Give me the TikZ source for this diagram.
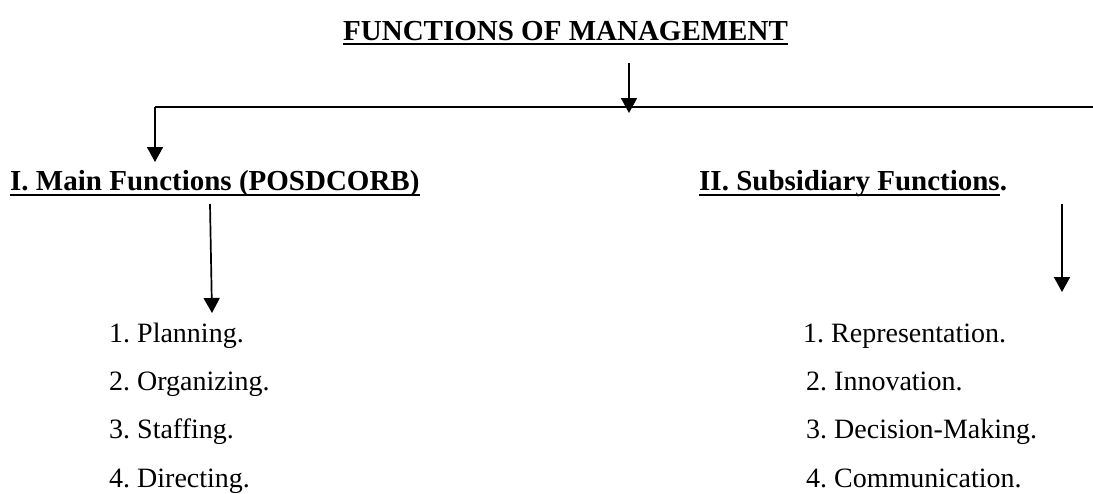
\documentclass[tikz,border=0pt]{standalone}
\usepackage{fontspec}
\setmainfont{Liberation Serif}
\usetikzlibrary{arrows.meta}
\frenchspacing
\begin{document}
\begin{tikzpicture}
    [x=1pt,y=-1pt,
    titre/.style={inner sep=0pt,anchor=base west,%
      font=\fontsize{29}{34}\selectfont\bfseries},
    item/.style={inner sep=0pt,anchor=base west,%
      font=\fontsize{28}{34}\selectfont},
    souligne/.style={line width=2.2pt},
    fleche/.style={-{Triangle[length=15pt,width=16pt]},line width=1.7pt}]
    \useasboundingbox (0,0) rectangle (1093,493);
    \node[titre] (F) at (343,40) {FUNCTIONS OF MANAGEMENT};
    \node[titre] (M) at (10,190) {I. Main Functions (POSDCORB)};
    \node[titre] (S) at (699,190) {II. Subsidiary Functions\rlap{.}};
    
    \draw[souligne] ([yshift=-4pt]F.base west) -- ([yshift=-4pt]F.base east);
    \draw[souligne] ([yshift=-5pt]M.base west) -- ([yshift=-5pt]M.base east);
    \draw[souligne] ([yshift=-5pt]S.base west) -- ([yshift=-5pt]S.base east);
    
    \coordinate (A) at (629,63);
    \coordinate (J) at (629,113);
    \coordinate (G) at (155,107);
    \coordinate (D) at (1093,107);
    \coordinate (Gb) at (155,162);
    \coordinate (Mh) at (210,204);
    \coordinate (Mb) at (212,313);
    \coordinate (Sh) at (1062,204);
    \coordinate (Sb) at (1062,292);
    
    \draw[fleche] (A) -- (J);
    \draw[line width=1.7pt] (G) -- (D);
    \draw[fleche] (G) -- (Gb);
    \draw[fleche] (Mh) -- (Mb);
    \draw[fleche] (Sh) -- (Sb);
    
    \node[item] (P1) at (109,342) {1. Planning.};
    \node[item] (P2) at (109,390) {2. Organizing.};
    \node[item] (P3) at (109,438) {3. Staffing.};
    \node[item] (P4) at (109,487) {4. Directing.};
    
    \node[item] (R1) at (803,342) {1. Representation.};
    \node[item] (R2) at (806,390) {2. Innovation.};
    \node[item] (R3) at (806,438) {3. Decision-Making.};
    \node[item] (R4) at (806,487) {4. Communication.};
    
  \end{tikzpicture}
\end{document}
